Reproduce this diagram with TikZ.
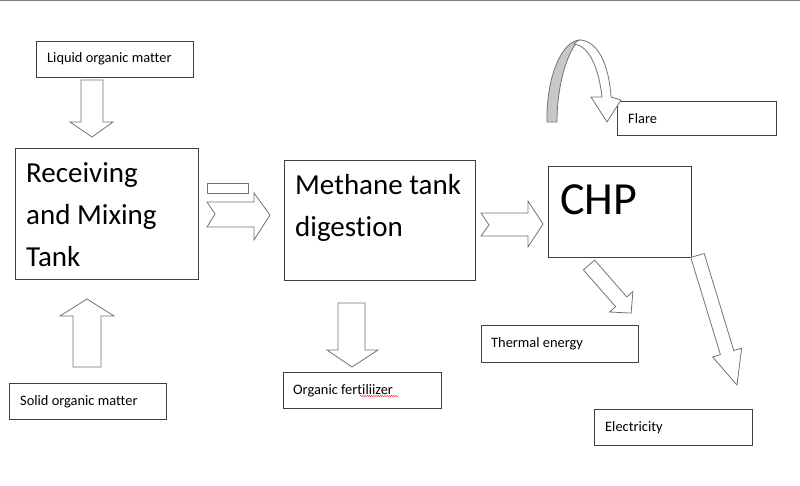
\documentclass[tikz,border=0pt]{standalone}
\usepackage{fontspec}
\setmainfont{Carlito}[Ligatures=NoCommon]
\usetikzlibrary{decorations.pathmorphing}

\tikzset{
  box/.style={draw=black!75, line width=0.9pt, anchor=north west, inner sep=0pt},
  smalltxt/.style={font=\fontsize{14.4}{17}\selectfont, anchor=west, inner sep=0pt},
  bigtxt/.style={font=\fontsize{29}{42}\selectfont, align=left, anchor=north west, inner sep=0pt},
  blockarrow/.style={draw=black!55, fill=white, line width=0.8pt, line join=miter}
}

\begin{document}
\begin{tikzpicture}[x=1pt,y=-1pt]

  % page frame
  \useasboundingbox (0,0) rectangle (800,486);
  \draw[black!50, line width=1.5pt] (0,0.75) -- (800,0.75);

  % input boxes
  \node[box, minimum width=157, minimum height=36] (liquid) at (36,41) {};
  \node[smalltxt] (liquidtxt) at ([xshift=11,yshift=1]liquid.west) {Liquid organic matter};
  \node[box, minimum width=157, minimum height=36] (solid) at (9,383) {};
  \node[smalltxt] (solidtxt) at ([xshift=11]solid.west) {Solid organic matter};

  % main tanks
  \node[box, minimum width=183, minimum height=131] (mix) at (15,148) {};
  \node[bigtxt] (mixtxt) at (26,162) {Receiving\\and Mixing\\Tank};
  \node[box, minimum width=191, minimum height=120] (methane) at (284,160) {};
  \node[bigtxt] (methanetxt) at (295,174) {Methane tank\\digestion};
  \node[box, minimum width=143, minimum height=91] (chp) at (548,166) {};
  \node[font=\fontsize{46}{50}\selectfont, anchor=base west, inner sep=0pt] (chptxt) at (560,215) {CHP};

  % outputs
  \node[box, minimum width=159, minimum height=34] (flare) at (617,101) {};
  \node[smalltxt] (flaretxt) at ([xshift=11]flare.west) {Flare};
  \node[box, minimum width=157, minimum height=37] (thermal) at (481,325) {};
  \node[smalltxt] (thermaltxt) at ([xshift=10]thermal.west) {Thermal energy};
  \node[box, minimum width=158, minimum height=36] (fert) at (283,372) {};
  \node[smalltxt] (ferttxt) at ([xshift=10]fert.west) {Organic fertiliizer};
  \draw[red!80, line width=0.4pt, decorate, decoration={snake, amplitude=0.8pt, segment length=2.2pt}]
    (360,396) -- (398,396);
  \node[box, minimum width=158, minimum height=36] (elec) at (594,409) {};
  \node[smalltxt] (electxt) at ([xshift=11]elec.west) {Electricity};

  % liquid -> mixing
  \draw[blockarrow] (81,80) -- (103,80) -- (103,122) -- (113,122) -- (92,137) -- (70,122) -- (81,122) -- cycle;
  % solid -> mixing
  \draw[blockarrow] (73,367) -- (73,316) -- (60,316) -- (87,299) -- (114,316) -- (101,316) -- (101,367) -- cycle;

  % mixing -> methane
  \draw[blockarrow] (207,183) rectangle (248,193);
  \draw[blockarrow] (207,202) -- (254,202) -- (254,193) -- (270,215) -- (254,240) -- (254,227) -- (207,227) -- (215,214) -- cycle;
  % methane -> CHP
  \draw[blockarrow] (481,213) -- (528,213) -- (528,201) -- (543,224) -- (528,247) -- (528,236) -- (481,236) -- (489,225) -- cycle;
  % methane -> fertilizer
  \draw[blockarrow] (338,303) -- (365,303) -- (365,350) -- (378,350) -- (352,367) -- (327,350) -- (338,350) -- cycle;

  % CHP -> thermal
  \draw[blockarrow] (594.6,260.1) -- (626.8,296.9) -- (632.9,291.6) -- (631.1,313.1) -- (609.6,312.0) -- (615.6,306.7) -- (583.4,269.9) -- cycle;
  % CHP -> electricity
  \draw[blockarrow] (704.2,253.5) -- (733.8,350.6) -- (741.6,348.2) -- (737,385) -- (712.6,357.0) -- (720.4,354.6) -- (690.8,257.5) -- cycle;

  % flare
  \draw[blockarrow, fill=black!22] (547,122) .. controls (546,75) and (563,40) .. (580,40)
    .. controls (570,46) and (557,80) .. (557,122) -- cycle;
  \draw[blockarrow] (580,40) .. controls (598,41) and (609,65) .. (611,97) -- (621,100) -- (607,122) -- (591,97)
    -- (602,97) .. controls (599,70) and (590,46) .. (574,44) .. controls (576,42) and (578,40) .. (580,40) -- cycle;

\end{tikzpicture}
\end{document}
